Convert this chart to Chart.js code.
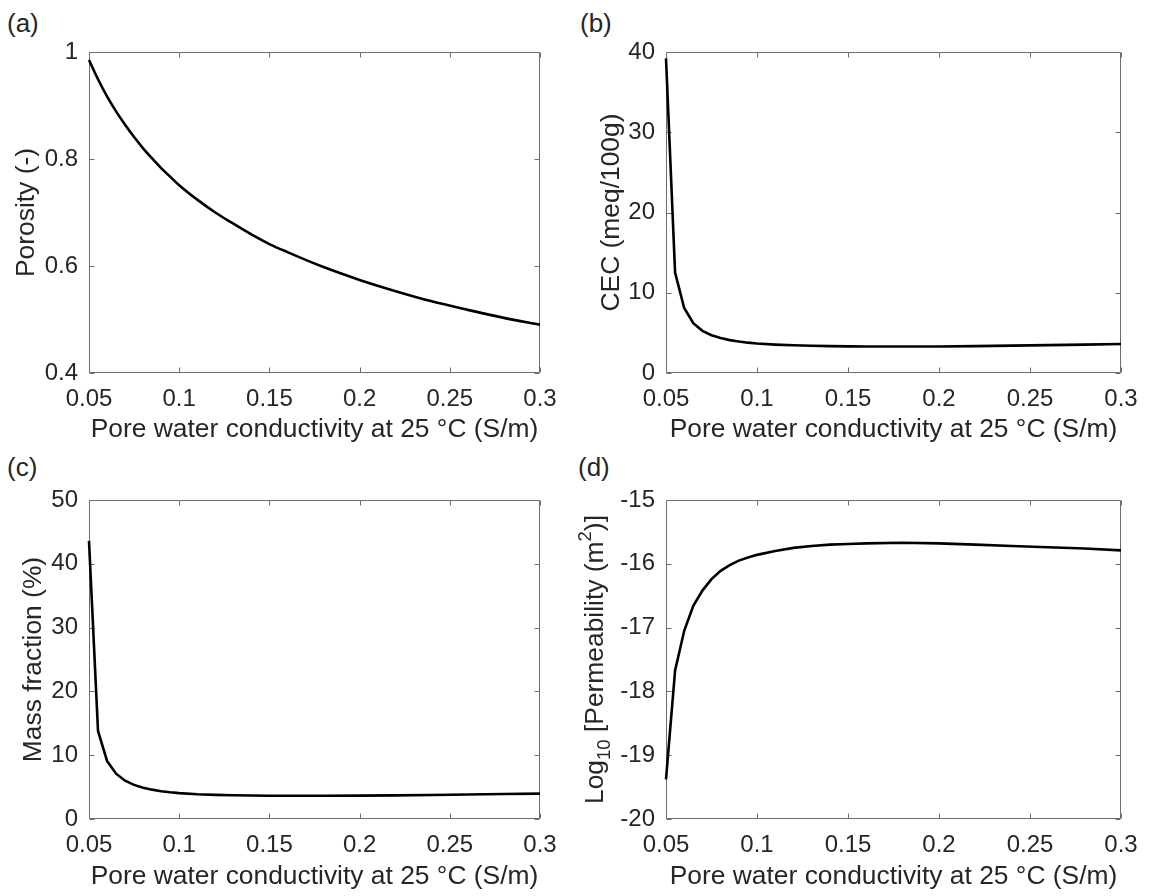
<!DOCTYPE html>
<html>
<head>
<meta charset="utf-8">
<script src="https://cdn.jsdelivr.net/npm/chart.js@4.4.1/dist/chart.umd.min.js"></script>
<style>
  html, body { margin: 0; padding: 0; background: #fff; overflow: hidden; }
  #page { position: relative; width: 1149px; height: 896px; font-family: "Liberation Sans", Arial, Helvetica, sans-serif; color: #262626; }
  .panel { position: absolute; }
  .tag { position: absolute; font-size: 26px; line-height: 26px; }
</style>
</head>
<body>
<div id="page">
  <div class="tag" style="left:7px;top:10px">(a)</div>
  <div class="tag" style="left:580px;top:10px">(b)</div>
  <div class="tag" style="left:7px;top:454px">(c)</div>
  <div class="tag" style="left:578px;top:454px">(d)</div>
  <canvas id="chartA" class="panel" width="575" height="406" style="left:0;top:40px"></canvas>
  <canvas id="chartB" class="panel" width="574" height="406" style="left:575px;top:40px"></canvas>
  <canvas id="chartC" class="panel" width="575" height="405" style="left:0;top:488px"></canvas>
  <canvas id="chartD" class="panel" width="574" height="405" style="left:575px;top:488px"></canvas>
</div>
<script>
// pore water conductivity at 25 °C (S/m)
const conductivity = [0.05, 0.055, 0.06, 0.065, 0.07, 0.075, 0.08, 0.085, 0.09, 0.095, 0.10,
  0.11, 0.12, 0.13, 0.14, 0.15, 0.16, 0.18, 0.20, 0.22, 0.24, 0.26, 0.28, 0.30];

const porosity = [0.985, 0.949, 0.917, 0.889, 0.864, 0.841, 0.820, 0.801, 0.783, 0.767, 0.751,
  0.724, 0.700, 0.679, 0.659, 0.641, 0.626, 0.598, 0.574, 0.553, 0.534, 0.518, 0.503, 0.490];

const cec = [39.2, 12.5, 8.1, 6.2, 5.25, 4.7, 4.35, 4.1, 3.92, 3.78, 3.68,
  3.54, 3.45, 3.39, 3.35, 3.32, 3.31, 3.30, 3.31, 3.35, 3.41, 3.47, 3.54, 3.62];

const massFraction = [43.6, 13.8, 9.1, 7.1, 6.0, 5.35, 4.9, 4.6, 4.35, 4.18, 4.05,
  3.88, 3.78, 3.72, 3.68, 3.65, 3.64, 3.64, 3.66, 3.71, 3.77, 3.84, 3.91, 3.98];

const logPermeability = [-19.38, -17.67, -17.05, -16.66, -16.42, -16.24, -16.11, -16.02, -15.95, -15.90, -15.86,
  -15.80, -15.75, -15.72, -15.70, -15.69, -15.68, -15.67, -15.68, -15.70, -15.72, -15.74, -15.76, -15.79];

const xTicks = [0.05, 0.1, 0.15, 0.2, 0.25, 0.3];
const porosityTicks = [0.4, 0.6, 0.8, 1];
const cecTicks = [0, 10, 20, 30, 40];
const massTicks = [0, 10, 20, 30, 40, 50];
const permTicks = [-20, -19, -18, -17, -16, -15];

const xTitle = "Pore water conductivity at 25 °C (S/m)";
const fontFamily = '"Liberation Sans", Arial, Helvetica, sans-serif';
const textColor = "#262626";
const boxColor = "#6e6e6e";

Chart.defaults.font.family = fontFamily;

// MATLAB-like box with inward ticks on all four sides
const boxPlugin = {
  id: "axesBox",
  beforeDatasetsDraw(chart) {
    const { ctx, chartArea: a, scales } = chart;
    const L = Math.round(a.left) + 0.5, R = Math.round(a.right) - 0.5;
    const T = Math.round(a.top) + 0.5, B = Math.round(a.bottom) - 0.5;
    const len = 5;
    ctx.save();
    ctx.strokeStyle = boxColor;
    ctx.lineWidth = 1;
    ctx.beginPath();
    ctx.rect(L, T, R - L, B - T);
    scales.x.ticks.forEach(t => {
      const px = Math.round(scales.x.getPixelForValue(t.value)) + 0.5;
      ctx.moveTo(px, B); ctx.lineTo(px, B - len);
      ctx.moveTo(px, T); ctx.lineTo(px, T + len);
    });
    scales.y.ticks.forEach(t => {
      const py = Math.round(scales.y.getPixelForValue(t.value)) + 0.5;
      ctx.moveTo(L, py); ctx.lineTo(L + len, py);
      ctx.moveTo(R, py); ctx.lineTo(R - len, py);
    });
    ctx.stroke();
    ctx.restore();
  }
};

// y title with subscript and superscript for panel (d)
const permTitlePlugin = {
  id: "permTitle",
  afterDraw(chart) {
    const { ctx, chartArea: a } = chart;
    const size = 26.4, small = 18.5;
    const parts = [
      { text: "Log", size: size, shift: 0 },
      { text: "10", size: small, shift: 0.32 * size },
      { text: " [Permeability (m", size: size, shift: 0 },
      { text: "2", size: small, shift: -0.38 * size },
      { text: ")]", size: size, shift: 0 }
    ];
    ctx.save();
    let total = 0;
    parts.forEach(p => {
      ctx.font = p.size + "px " + fontFamily;
      p.w = ctx.measureText(p.text).width;
      total += p.w;
    });
    ctx.translate(a.left - 70, (a.top + a.bottom) / 2);
    ctx.rotate(-Math.PI / 2);
    ctx.fillStyle = textColor;
    ctx.textBaseline = "middle";
    ctx.textAlign = "left";
    let x = -total / 2;
    parts.forEach(p => {
      ctx.font = p.size + "px " + fontFamily;
      ctx.fillText(p.text, x, p.shift);
      x += p.w;
    });
    ctx.restore();
  }
};

function makePanel(id, values, yTicks, yTitle, geo, extraPlugins) {
  const points = conductivity.map((c, i) => ({ x: c, y: values[i] }));
  return new Chart(document.getElementById(id), {
    type: "line",
    data: {
      datasets: [{
        data: points,
        borderColor: "#000",
        borderWidth: 2.6,
        pointRadius: 0,
        tension: 0,
        cubicInterpolationMode: geo.smooth ? "monotone" : "default",
        fill: false,
        clip: false,
      }],
    },
    options: {
      responsive: false,
      animation: false,
      devicePixelRatio: 1,
      layout: { padding: { top: geo.top, right: geo.right, left: 0, bottom: 0 } },
      plugins: { legend: { display: false }, tooltip: { enabled: false } },
      scales: {
        x: {
          type: "linear",
          position: "bottom",
          min: xTicks[0],
          max: xTicks[xTicks.length - 1],
          grid: { display: false, drawTicks: false },
          border: { display: false },
          afterBuildTicks: s => { s.ticks = xTicks.map(v => ({ value: v })); },
          afterFit: s => { s.height = geo.xHeight; s.paddingLeft = 0; s.paddingRight = 0; },
          ticks: { padding: 12, maxRotation: 0, autoSkip: false, color: textColor, font: { size: 24 }, callback: v => String(v) },
          title: { display: true, text: xTitle, color: textColor, font: { size: 26.4 }, padding: 0 },
        },
        y: {
          type: "linear",
          min: yTicks[0],
          max: yTicks[yTicks.length - 1],
          grid: { display: false, drawTicks: false },
          border: { display: false },
          afterBuildTicks: s => { s.ticks = yTicks.map(v => ({ value: v })); },
          afterFit: s => { s.width = geo.yWidth; s.paddingTop = 0; s.paddingBottom = 0; },
          ticks: { padding: 11, autoSkip: false, color: textColor, font: { size: 24 }, callback: v => String(v) },
          title: { display: !!yTitle, text: yTitle, color: textColor, font: { size: 26.4 }, padding: { top: geo.titlePad, bottom: 0 } },
        },
      },
    },
    plugins: [boxPlugin].concat(extraPlugins || []),
  });
}

makePanel("chartA", porosity, porosityTicks, "Porosity (-)", { top: 12, right: 35, xHeight: 73, yWidth: 89, titlePad: 11, smooth: true });
makePanel("chartB", cec, cecTicks, "CEC (meq/100g)", { top: 12, right: 28, xHeight: 73, yWidth: 91, titlePad: 21 });
makePanel("chartC", massFraction, massTicks, "Mass fraction (%)", { top: 12, right: 35, xHeight: 74, yWidth: 89, titlePad: 18 });
makePanel("chartD", logPermeability, permTicks, "", { top: 12, right: 28, xHeight: 74, yWidth: 91, titlePad: 0 }, [permTitlePlugin]);
</script>
</body>
</html>
